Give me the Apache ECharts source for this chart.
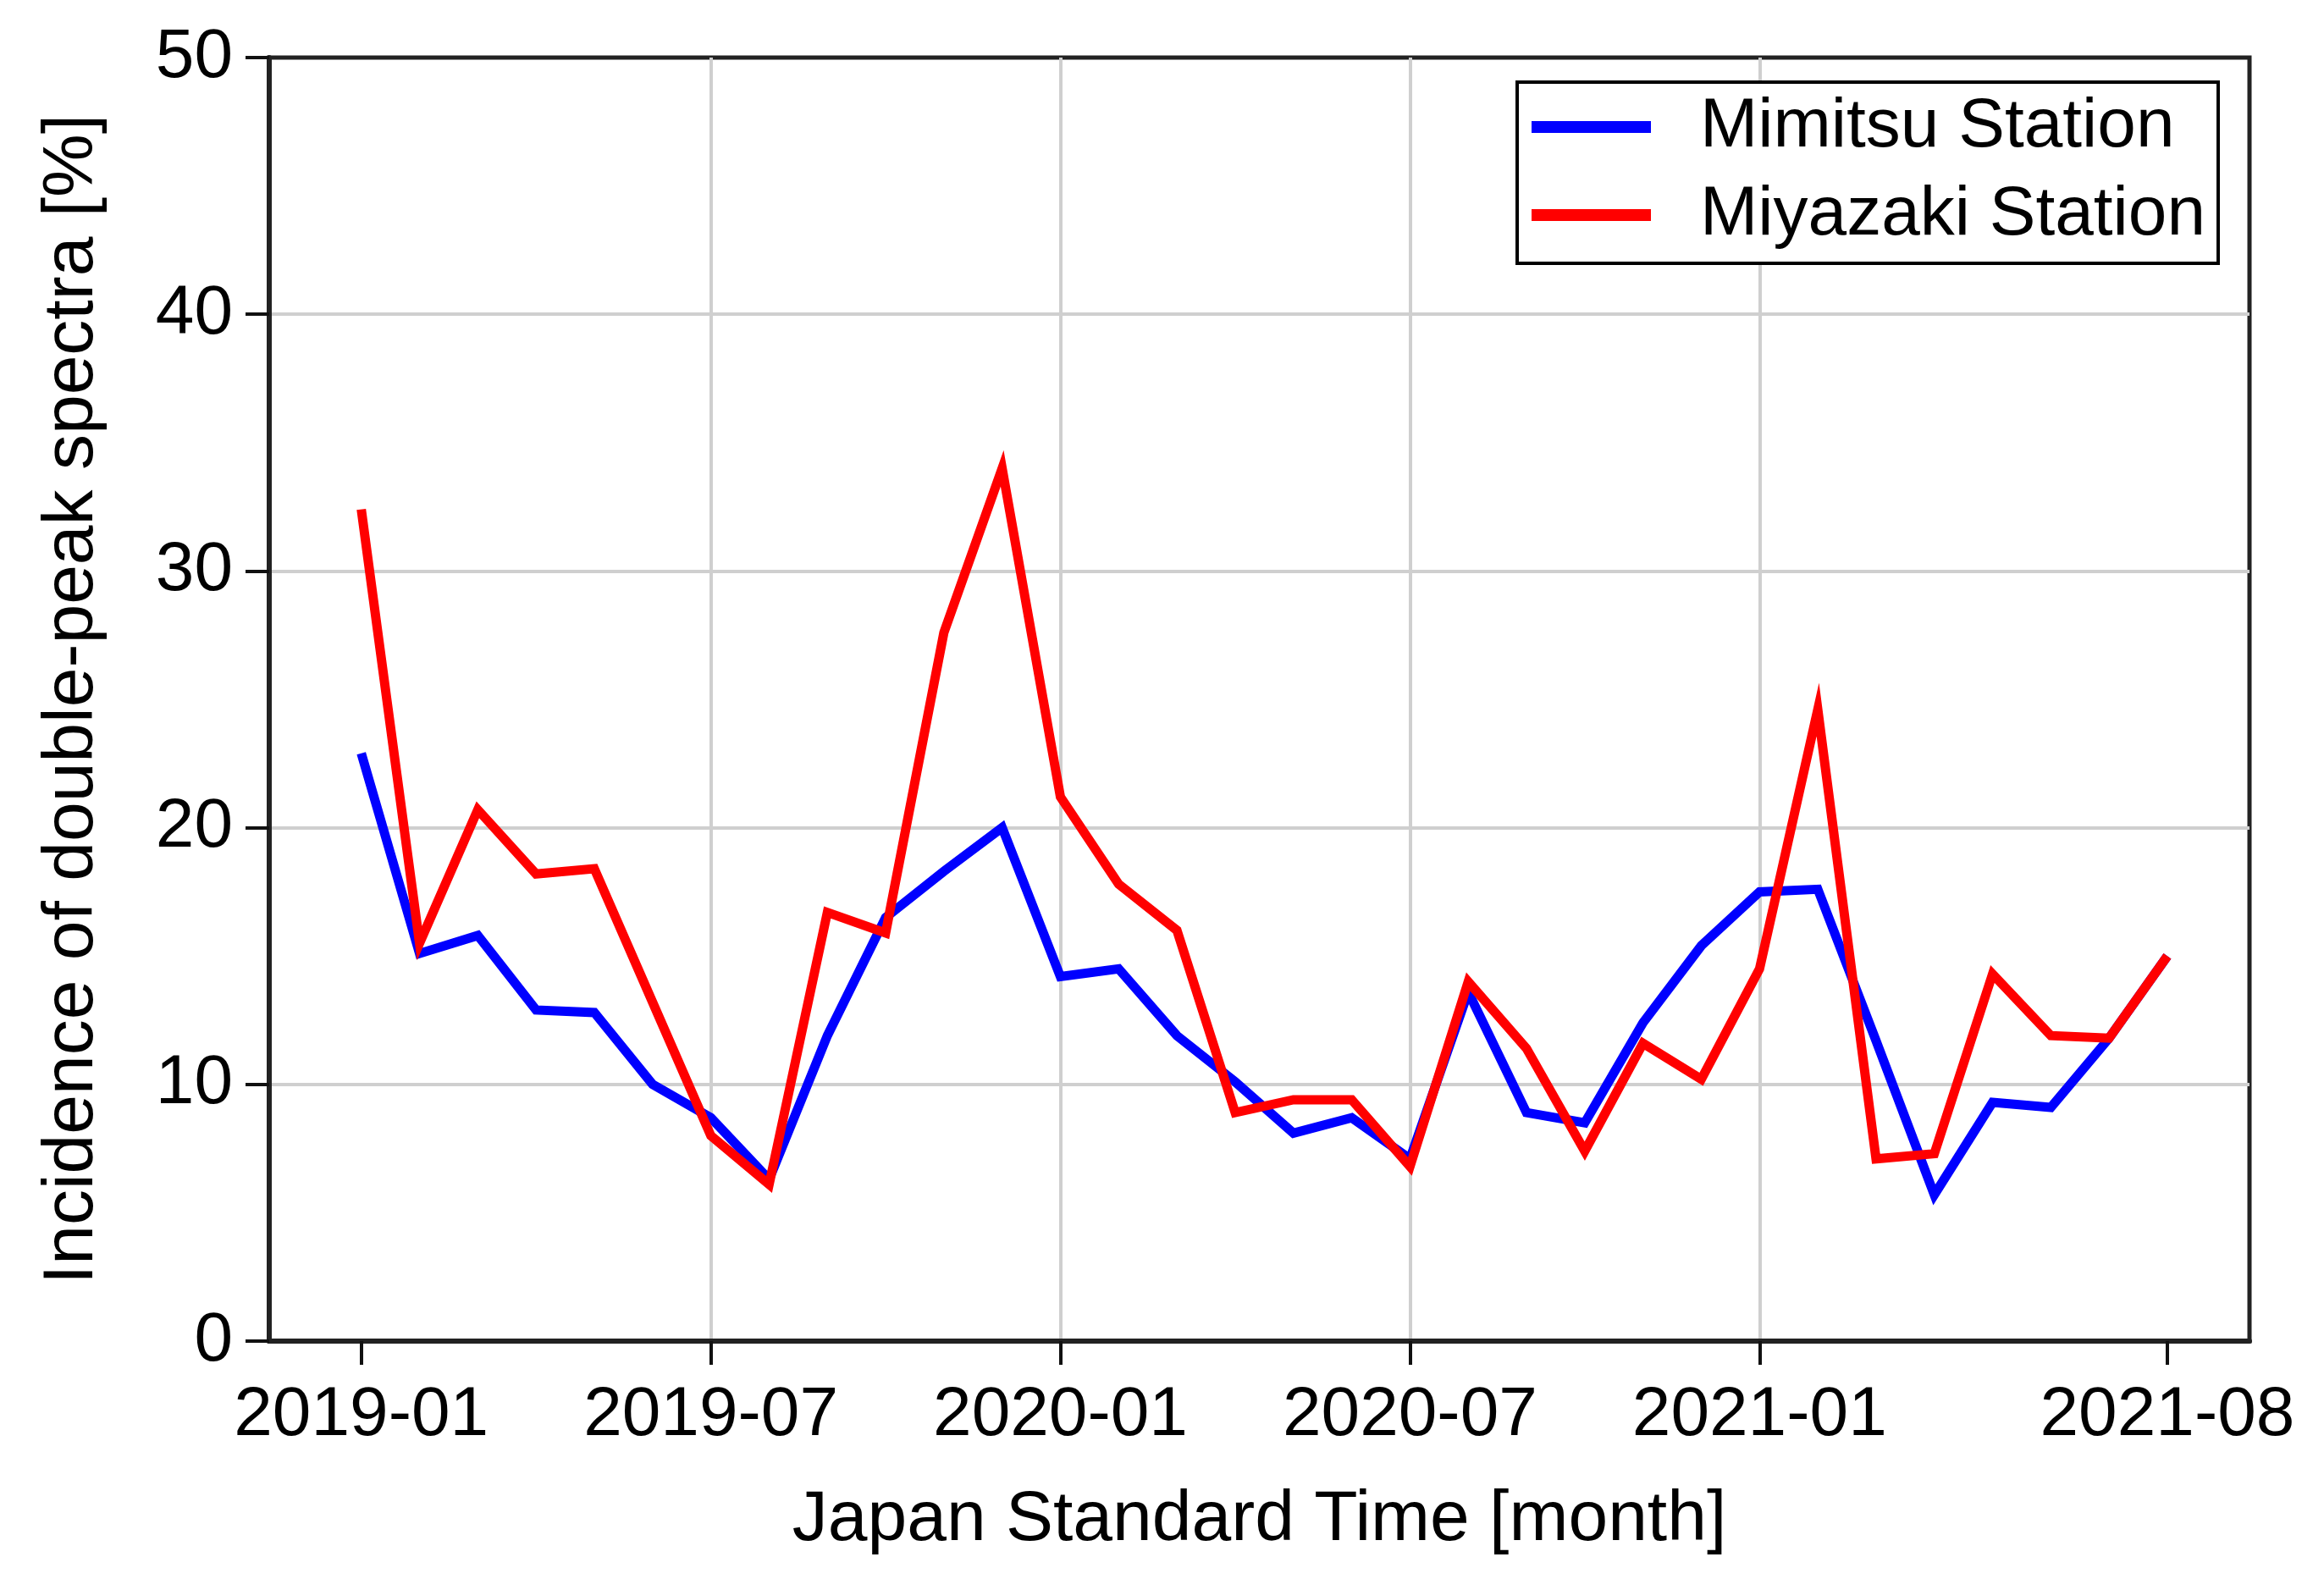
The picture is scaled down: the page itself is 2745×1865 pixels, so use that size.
<!DOCTYPE html>
<html>
<head>
<meta charset="utf-8">
<script src="https://cdn.jsdelivr.net/npm/echarts@6/dist/echarts.min.js"></script>
<style>
  html, body { margin: 0; padding: 0; background: #fff; }
  #chart { width: 2745px; height: 1865px; }
</style>
</head>
<body>
<div id="chart"></div>
<script>
const months = [
  '2019-01','2019-02','2019-03','2019-04','2019-05','2019-06',
  '2019-07','2019-08','2019-09','2019-10','2019-11','2019-12',
  '2020-01','2020-02','2020-03','2020-04','2020-05','2020-06',
  '2020-07','2020-08','2020-09','2020-10','2020-11','2020-12',
  '2021-01','2021-02','2021-03','2021-04','2021-05','2021-06',
  '2021-07','2021-08'
];
const mimitsu = [
  22.9, 15.1, 15.8, 12.9, 12.8, 10.0,
  8.7, 6.3, 11.9, 16.5, 18.3, 20.0,
  14.2, 14.5, 11.9, 10.1, 8.1, 8.7,
  7.1, 13.6, 8.9, 8.5, 12.4, 15.4,
  17.5, 17.6, 11.7, 5.7, 9.3, 9.1,
  11.8, 15.0
];
const miyazaki = [
  32.4, 15.5, 20.7, 18.2, 18.4, 13.2,
  8.0, 6.1, 16.7, 15.9, 27.6, 34.0,
  21.2, 17.8, 16.0, 8.9, 9.4, 9.4,
  6.8, 14.0, 11.4, 7.4, 11.6, 10.2,
  14.5, 24.6, 7.1, 7.3, 14.3, 11.9,
  11.8, 15.0
];
const seriesNames = ['Mimitsu Station', 'Miyazaki Station'];
const xTickLabels = ['2019-01', '2019-07', '2020-01', '2020-07', '2021-01', '2021-08'];
const xTitle = 'Japan Standard Time [month]';
const yTitle = 'Incidence of double-peak spectra [%]';

const FONT = '"Liberation Sans", Arial, sans-serif';
const xTickIdx = xTickLabels.map(l => months.indexOf(l));
const toPairs = arr => arr.map((v, i) => [i, v]);

const chart = echarts.init(document.getElementById('chart'), null, { renderer: 'canvas' });
chart.setOption({
  animation: false,
  backgroundColor: '#ffffff',
  textStyle: { fontFamily: FONT },
  grid: {
    left: 318, right: 88, top: 68, bottom: 281,
    show: true, borderColor: '#222', borderWidth: 5, backgroundColor: 'transparent'
  },
  legend: {
    left: 1792, top: 97, orient: 'vertical',
    backgroundColor: '#fff',
    borderColor: '#000', borderWidth: 4,
    padding: [8, 15, 12, 17],
    itemWidth: 141, itemHeight: 14, itemGap: 14,
    icon: 'rect',
    textStyle: { fontSize: 82, color: '#000', fontFamily: FONT, padding: [0, 0, 0, 53], lineHeight: 90 },
    data: seriesNames
  },
  xAxis: {
    type: 'value',
    min: -1.58, max: 32.41,
    name: xTitle,
    nameLocation: 'middle',
    nameGap: 170,
    nameTextStyle: { fontSize: 84, color: '#000', fontFamily: FONT },
    axisLine: { show: true, onZero: false, lineStyle: { color: '#222', width: 6 } },
    axisTick: { show: true, inside: false, length: 28, customValues: xTickIdx, lineStyle: { color: '#111', width: 4 } },
    axisLabel: {
      show: true, fontSize: 82, color: '#000', fontFamily: FONT, margin: 47,
      customValues: xTickIdx,
      formatter: v => months[Math.round(v)] || ''
    },
    splitLine: { show: true, showMinLine: false, showMaxLine: false, lineStyle: { color: '#cfcfcf', width: 4 } }
  },
  yAxis: {
    type: 'value',
    min: 0, max: 50, interval: 10,
    name: yTitle,
    nameLocation: 'middle',
    nameGap: 190,
    nameTextStyle: { fontSize: 84, color: '#000', fontFamily: FONT },
    axisLine: { show: true, onZero: false, lineStyle: { color: '#222', width: 6 } },
    axisTick: { show: true, inside: false, length: 28, lineStyle: { color: '#111', width: 4 } },
    axisLabel: { fontSize: 82, color: '#000', fontFamily: FONT, margin: 43 },
    splitLine: { show: true, showMinLine: false, showMaxLine: false, lineStyle: { color: '#cfcfcf', width: 4 } }
  },
  series: [
    {
      name: seriesNames[0], type: 'line', data: toPairs(mimitsu),
      showSymbol: false, symbol: 'none',
      lineStyle: { color: '#0000ff', width: 11, join: 'miter', cap: 'butt' },
      itemStyle: { color: '#0000ff' }, z: 3
    },
    {
      name: seriesNames[1], type: 'line', data: toPairs(miyazaki),
      showSymbol: false, symbol: 'none',
      lineStyle: { color: '#ff0000', width: 11, join: 'miter', cap: 'butt' },
      itemStyle: { color: '#ff0000' }, z: 4
    }
  ]
});
</script>
</body>
</html>
